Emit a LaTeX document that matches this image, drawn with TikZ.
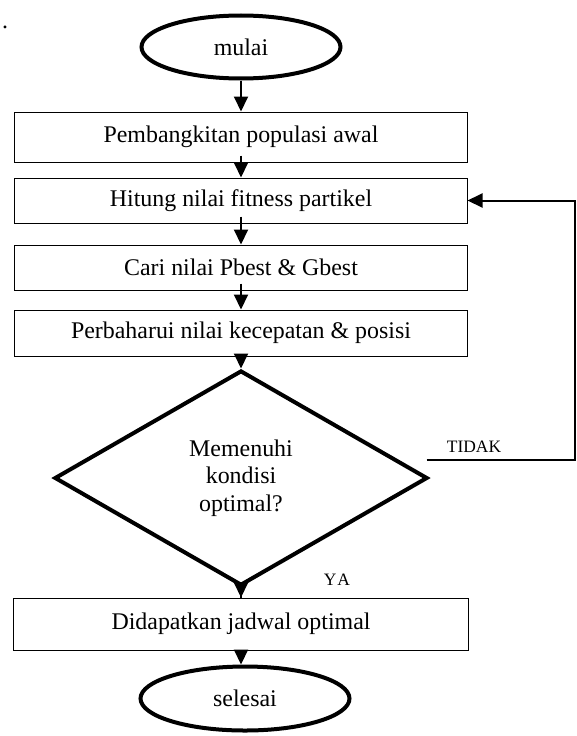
\documentclass[tikz,border=0pt]{standalone}
\usepackage{fontspec}
\setmainfont{Liberation Serif}
\usetikzlibrary{positioning, arrows.meta, shapes.geometric}

\begin{document}
\begin{tikzpicture}[x=1bp, y=-1bp, ->, >={Triangle[width=14bp, length=15bp]},
      line width=2bp, font=\fontsize{24}{27.5}\selectfont,
      terminal/.style={ellipse, draw, line width=4bp, minimum height=63bp},
      process/.style={rectangle, draw, line width=1bp, minimum width=452bp,
        minimum height=45bp},
      decision/.style={diamond, draw, line width=4bp, align=center,
        minimum width=373bp, minimum height=215bp},
      branch/.style={font=\fontsize{17.5}{20}\selectfont},
      into/.style={shorten <=-7bp}]
    \useasboundingbox (0,0) rectangle (577,736);
    \node (dot) at (5,27) {.};
    \node[terminal, minimum width=199bp] (mulai) at (241,47) {mulai};
    \node[process, minimum height=50bp] (awal) [below=31bp of mulai] {Pembangkitan populasi awal};
    \node[process] (hitung) [below=15bp of awal] {Hitung nilai fitness partikel};
    \node[process] (best) [below=21bp of hitung] {Cari nilai Pbest \& Gbest};
    \node[process, minimum height=46bp] (perbarui) [below=19bp of best] {Perbaharui nilai kecepatan \& posisi};
    \node[decision] (cek) [below=12bp of perbarui] {Memenuhi\\kondisi\\optimal?};
    \node[process, minimum width=455bp, minimum height=52bp] (jadwal) [below=10bp of cek] {Didapatkan jadwal optimal};
    \node[terminal, minimum width=209bp, minimum height=64bp] (selesai) [below=14bp of jadwal, xshift=4bp] {selesai};
    \node[branch] (ya) at (337,580) {Y\kern1bp A};
    \coordinate (tidak) at ([xshift=-3bp, yshift=18bp]cek.east);
    \coordinate (kanan) at (575,0);

    \path (mulai) edge (awal)
          (awal) edge[into] (hitung)
          (hitung) edge[into] (best)
          (best) edge[into] (perbarui)
          (perbarui) edge[into] (cek)
          (cek) edge[shorten <=-10bp] (jadwal)
          (jadwal.south) edge[shorten <=-9bp] (jadwal.south |- selesai.north);
    \draw (tidak) -- node[branch, above, pos=0.32, yshift=3bp] {TIDAK} (tidak -| kanan) |- (hitung.east);
  \end{tikzpicture}
\end{document}
